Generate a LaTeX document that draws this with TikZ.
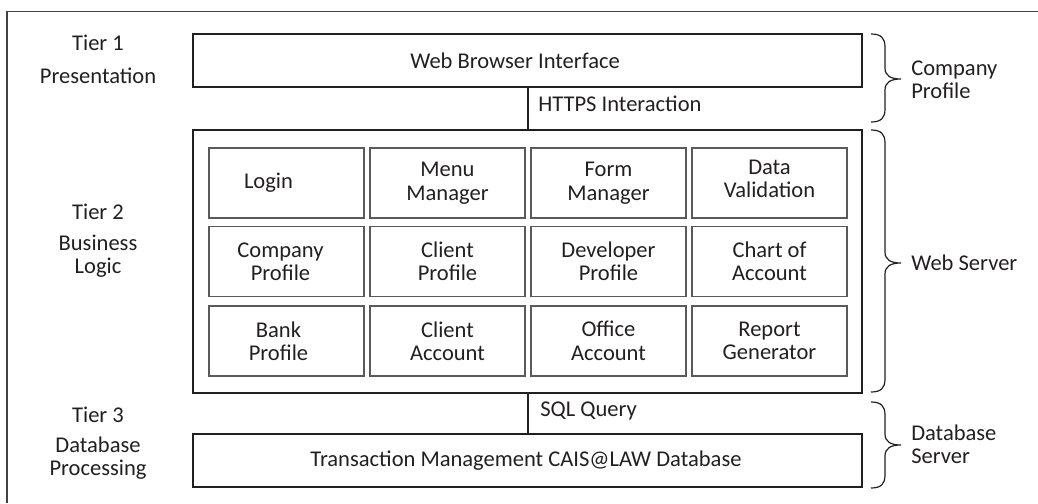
\documentclass[tikz,border=0pt]{standalone}
\usepackage{fontspec}
\setmainfont{Carlito}
\definecolor{ink}{HTML}{231F20}
\definecolor{cellgray}{HTML}{5A5A5A}
\begin{document}
\begin{tikzpicture}[x=0.75pt,y=-0.75pt,
  txt/.style={text=ink, font=\fontsize{16.9}{17.6}\selectfont, inner sep=0pt, align=center},
  ltxt/.style={txt, align=left, anchor=west},
  tierbox/.style={draw=ink, line width=1.5pt, inner sep=0pt, minimum width=501.75pt},
  cell/.style={draw=cellgray, line width=0.8pt, inner sep=0pt, minimum width=116.25pt, minimum height=52.5pt},
  conn/.style={draw=ink, line width=1.5pt},
  bracestyle/.style={draw=ink, line width=0.9pt},
  frame/.style={draw=ink!85, line width=1.3pt}
]
\useasboundingbox (0,0) rectangle (1038,503);
\draw[frame] (7.3,503) -- (7.3,11.5) -- (1038,11.5);

% tier boxes
\node[tierbox, minimum height=39.75pt] (web) at (527.5,60.5) {};
\node[txt] (webt) at (515,61) {Web Browser Interface};
\node[tierbox, minimum height=197.25pt] (biz) at (527.5,261.5) {};
\node[tierbox, minimum height=39.75pt] (db) at (527.5,460.5) {};
\node[txt] (dbt) at (526,461) {Transaction Management CAIS@LAW Database};

% connectors
\draw[conn] (web.south) -- (biz.north);
\draw[conn] (biz.south) -- (db.north);
\node[ltxt] (https) at (538,104) {HTTPS Interaction};
\node[ltxt] (sql) at (540,411) {SQL Query};

% cells
\node[cell] (c11) at (286.5,183) {};
\node[cell] (c12) at (447.5,183) {};
\node[cell] (c13) at (608.5,183) {};
\node[cell] (c14) at (769.5,183) {};
\node[cell] (c21) at (286.5,261.5) {};
\node[cell] (c22) at (447.5,261.5) {};
\node[cell] (c23) at (608.5,261.5) {};
\node[cell] (c24) at (769.5,261.5) {};
\node[cell] (c31) at (286.5,341) {};
\node[cell] (c32) at (447.5,341) {};
\node[cell] (c33) at (608.5,341) {};
\node[cell] (c34) at (769.5,341) {};

\node[txt] (t11) at ([xshift=-13.5pt]c11.center) {Login};
\node[txt] (t12) at (c12.center) {Menu\\Manager};
\node[txt] (t13) at (c13.center) {Form\\Manager};
\node[txt] (t14) at ([yshift=3pt]c14.center) {Data\\Validation};
\node[txt] (t21) at ([xshift=-4.5pt]c21.center) {Company\\Profile};
\node[txt] (t22) at (c22.center) {Client\\Profile};
\node[txt] (t23) at (c23.center) {Developer\\Profile};
\node[txt] (t24) at (c24.center) {Chart of\\Account};
\node[txt] (t31) at ([xshift=-6pt]c31.center) {Bank\\Profile};
\node[txt] (t32) at (c32.center) {Client\\Account};
\node[txt] (t33) at (c33.center) {Office\\Account};
\node[txt] (t34) at (c34.center) {Report\\Generator};

% left labels
\node[txt] (tier1) at (98,43) {Tier 1};
\node[txt] (pres) at (98,76) {Presentation};
\node[txt] (tier2) at (98,212) {Tier 2};
\node[txt] (busi) at (98,256) {Business\\Logic};
\node[txt] (tier3) at (98,415) {Tier 3};
\node[txt] (dbp) at (98,458) {Database\\Processing};

% braces
\foreach \ya/\ym/\yb in {34/79/122, 130/263/392, 402/445/488}{
  \draw[bracestyle] (871,\ya) .. controls (881,\ya) and (885,\ya+4) .. (885,\ya+13)
    -- (885,\ym-11) .. controls (885,\ym-3) and (891,\ym) .. (901,\ym)
    .. controls (891,\ym) and (885,\ym+3) .. (885,\ym+11)
    -- (885,\yb-13) .. controls (885,\yb-4) and (881,\yb) .. (871,\yb);
}
\node[ltxt] (cp) at (911,80) {Company\\Profile};
\node[ltxt] (ws) at (911,263) {Web Server};
\node[ltxt] (dbs) at (911,444) {Database\\Server};
\end{tikzpicture}
\end{document}
